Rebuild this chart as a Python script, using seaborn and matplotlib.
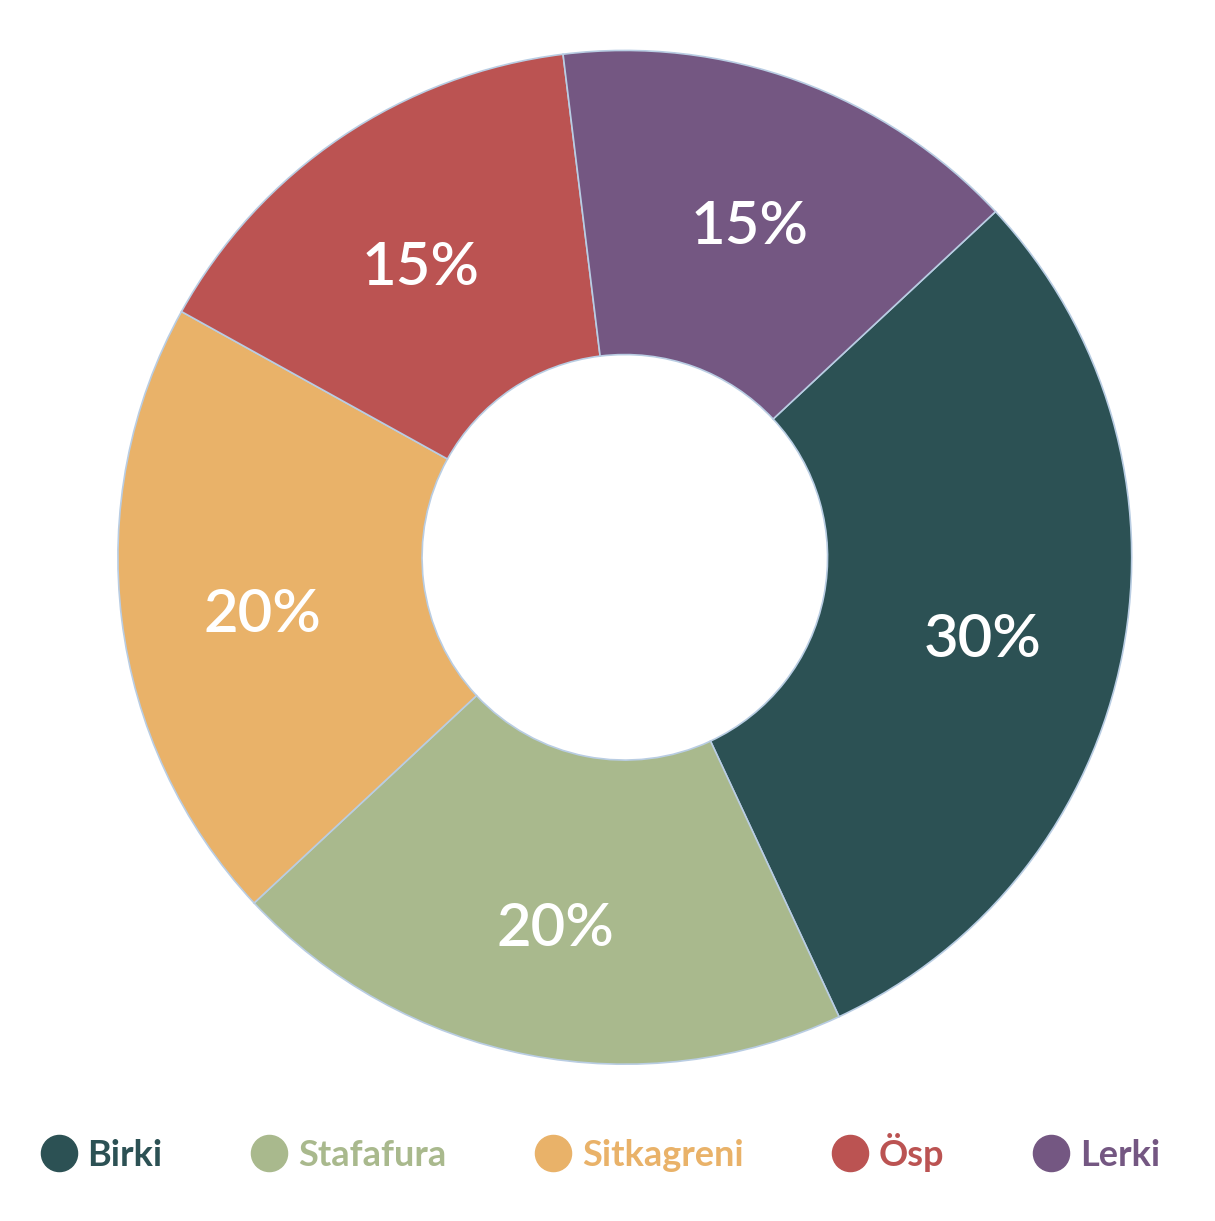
import matplotlib
matplotlib.use("Agg")
import matplotlib.pyplot as plt
import matplotlib.transforms as mtransforms
import seaborn as sns
from matplotlib.lines import Line2D

# data
tegundir = ["Birki", "Stafafura", "Sitkagreni", "Ösp", "Lerki"]
hlutfall = [30, 20, 20, 15, 15]
litir = ["#2c5154", "#a9b98d", "#e9b269", "#bb5352", "#745782"]

sns.set_theme(style="white")
plt.rcParams["font.family"] = ["Lato", "DejaVu Sans"]

fig = plt.figure(figsize=(12.15, 12.21), dpi=100)
ax = fig.add_axes([0.0553, 0.0869, 0.9179, 0.9133])

wedges, texts, autotexts = ax.pie(
    hlutfall,
    colors=sns.color_palette(litir),
    startangle=43,
    counterclock=False,
    autopct="%d%%",
    pctdistance=0.72,
    wedgeprops=dict(width=0.6, edgecolor="#b9cde3", linewidth=1.2),
    textprops=dict(color="white", fontsize=43, fontweight="semibold"),
)
# labels sit a little lower in the original
shift = mtransforms.offset_copy(ax.transData, fig=fig, y=-13, units="dots")
for t in autotexts:
    t.set_transform(shift)

ax.set_xlim(-1.1, 1.1)
ax.set_ylim(-1.1, 1.1)
ax.set_aspect("equal")
ax.axis("off")

handles = [Line2D([0], [0], marker="o", linestyle="none", markersize=26,
                  markerfacecolor=c, markeredgecolor=c) for c in litir]
fig.legend(handles, tegundir, loc="center", bbox_to_anchor=(0.494, 0.0565),
           ncol=5, frameon=False, labelcolor=litir,
           prop=dict(weight="bold", size=26), handlelength=1.0,
           handletextpad=0.3, columnspacing=2.45)

fig.savefig("out.png", dpi=100, facecolor="white")
